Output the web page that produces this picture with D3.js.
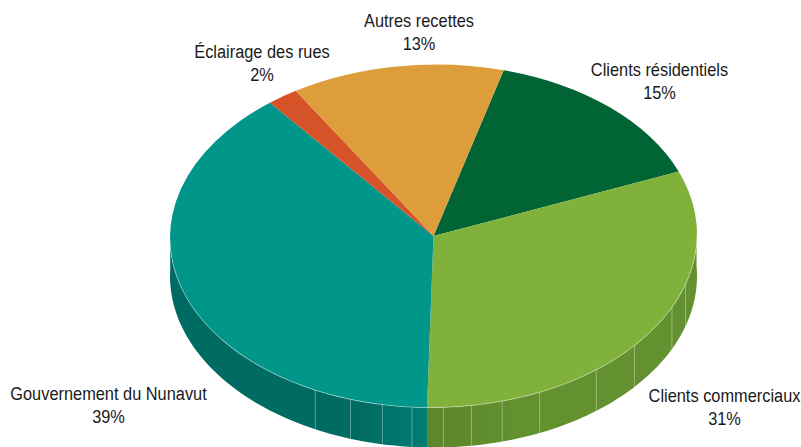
<!DOCTYPE html>
<html lang="fr"><head><meta charset="utf-8">
<script src="https://cdn.jsdelivr.net/npm/d3@7"></script>
<style>html,body{margin:0;background:#fff;overflow:hidden}svg{display:block}
text{font-family:"Liberation Sans",sans-serif;font-size:18.5px;fill:#1a1a1a;text-anchor:middle}</style>
</head><body><svg id="c" width="801" height="447"></svg>
<script>
const categories = ["Clients résidentiels","Clients commerciaux","Gouvernement du Nunavut","Éclairage des rues","Autres recettes"];
const percentLabels = ["15%","31%","39%","2%","13%"];
const shares = [14.75,31.35,38.95,1.9,13.05];
const topColors = ["#006435","#80b13b","#00968a","#d65228","#dd9d3a"];
const wallColors = ["#004d29","url(#wallGreen)","url(#wallTeal)","#a5401f","#ab7a2d"];
const wallSeams = [29.7,32,36.2,39.4,43.4,45.8,47.7,49.4,51.3,53.1,55.1,57.4];
const labelAnchors = [[659.5,76],[724.5,402],[108.5,400],[262,58],[419,27]];

const cx=433.5,cy=236,rx=263.5,ry=171.5,depth=40,lineGap=23.5,narrow=.885,tiltDeg=-0.7;
const startDeg=15.9, TAU=Math.PI*2, start=startDeg*Math.PI/180, tilt=tiltDeg*Math.PI/180;
const svg=d3.select("#c");
const defs=svg.append("defs");
const grad=(id,x1,x2,stops)=>{
  const g=defs.append("linearGradient").attr("id",id).attr("gradientUnits","userSpaceOnUse")
    .attr("x1",x1).attr("x2",x2).attr("y1",0).attr("y2",0);
  stops.forEach(([o,c])=>g.append("stop").attr("offset",o).attr("stop-color",c));
};
grad("wallTeal",360,427,[[0,"#006b63"],[1,"#007d75"]]);
grad("wallGreen",427,520,[[0,"#5c862a"],[1,"#63912f"]]);

const pie=d3.pie().sort(null).startAngle(start).endAngle(start+TAU);
const arcs=pie(shares);
const px=a=>cx+rx*Math.sin(a), py=(a,d=0)=>cy-ry*Math.cos(a)+d;
// rim point of the slightly tilted top face
const rimPoint=a=>{
  const u=rx*Math.sin(a), v=-ry*Math.cos(a);
  return [cx+u*Math.cos(tilt)-v*Math.sin(tilt), cy+u*Math.sin(tilt)+v*Math.cos(tilt)];
};

// walls: only the front half is visible; the lower edge is offset so joints stay vertical
const front=[Math.PI/2-.05,3*Math.PI/2+.05], lowerShift=.008;
const wallPath=(a0,a1)=>{
  const s=d3.range(0,65).map(i=>a0+(a1-a0)*i/64);
  const up=s.map(rimPoint), dn=s.slice().reverse().map(a=>[px(a-lowerShift),py(a-lowerShift,depth)]);
  return d3.line()(up.concat(dn))+"Z";
};
arcs.forEach((d,i)=>{
  const a0=Math.max(d.startAngle,front[0]),a1=Math.min(d.endAngle,front[1]);
  if(a1>a0) svg.append("path").attr("d",wallPath(a0,a1)).attr("fill",wallColors[i]);
});
const seamAngle=d3.scaleLinear().domain([0,100]).range([0,TAU]);
svg.selectAll("line.seam").data(wallSeams).join("line").attr("class","seam")
  .attr("x1",p=>px(seamAngle(p))).attr("x2",p=>px(seamAngle(p)))
  .attr("y1",p=>py(seamAngle(p))-4).attr("y2",p=>py(seamAngle(p),depth))
  .attr("stroke","#fff").attr("stroke-opacity",.35).attr("stroke-width",1);

// top face
const arc=d3.arc().innerRadius(0).outerRadius(rx);
const face=svg.append("g").attr("transform",`translate(${cx},${cy}) rotate(${tiltDeg}) scale(1,${ry/rx})`);
face.selectAll("path").data(arcs).join("path").attr("d",arc).attr("fill",(d,i)=>topColors[i]);

// pale rim between top and wall
const rim=d3.range(0,129).map(i=>Math.PI/2+Math.PI*i/128).map(rimPoint);
svg.append("path").attr("d",d3.line()(rim)).attr("fill","none").attr("stroke","#fff").attr("stroke-opacity",.45).attr("stroke-width",.8);

// labels
categories.forEach((c,i)=>{
  const [x,y]=labelAnchors[i];
  const g=svg.append("g").attr("transform",`translate(${x},${y}) scale(${narrow},1)`);
  g.append("text").attr("y",0).text(c);
  g.append("text").attr("y",lineGap).text(percentLabels[i]);
});
</script></body></html>
